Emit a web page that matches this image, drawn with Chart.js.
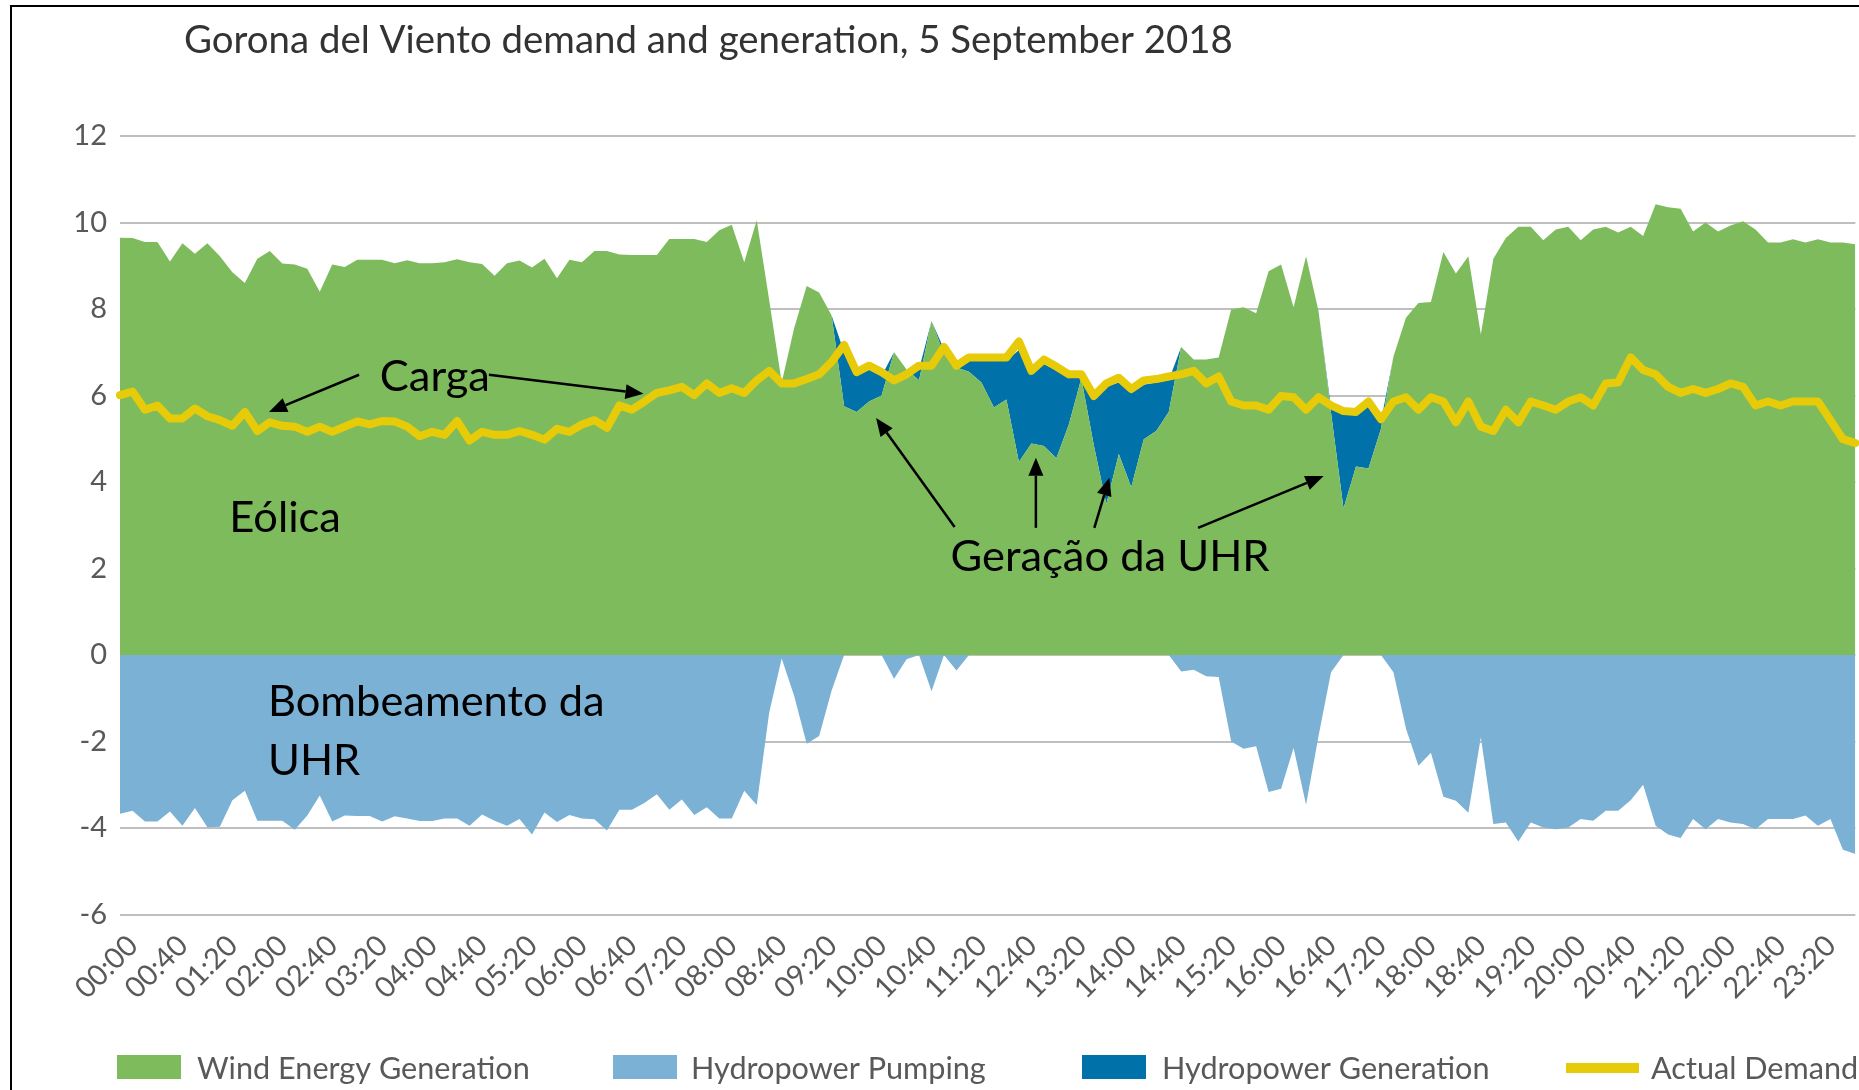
<!DOCTYPE html>
<html><head><meta charset="utf-8"><title>Gorona del Viento demand and generation</title>
<script src="https://cdn.jsdelivr.net/npm/chart.js@4.4.1/dist/chart.umd.min.js"></script>
<style>
html,body{margin:0;padding:0;background:#fff;overflow:hidden;width:1859px;height:1090px;}
#wrap{position:absolute;left:0;top:0;width:1886px;height:1090px;}
canvas{display:block;}
</style></head><body>
<div id="wrap"><canvas id="c" width="1886" height="1090"></canvas></div>
<script>
// ---------- data ----------
const times = ("00:00 00:10 00:20 00:30 00:40 00:50 01:00 01:10 01:20 01:30 01:40 01:50 " +
  "02:00 02:10 02:20 02:30 02:40 02:50 03:00 03:10 03:20 03:30 03:40 03:50 " +
  "04:00 04:10 04:20 04:30 04:40 04:50 05:00 05:10 05:20 05:30 05:40 05:50 " +
  "06:00 06:10 06:20 06:30 06:40 06:50 07:00 07:10 07:20 07:30 07:40 07:50 " +
  "08:00 08:10 08:20 08:30 08:40 08:50 09:00 09:10 09:20 09:30 09:40 09:50 " +
  "10:00 10:10 10:20 10:30 10:40 10:50 11:00 11:10 11:20 11:30 11:40 11:50 " +
  "12:40 12:50 13:00 13:10 13:20 13:30 13:40 13:50 14:00 14:10 14:20 14:30 14:40 14:50 " +
  "15:00 15:10 15:20 15:30 15:40 15:50 16:00 16:10 16:20 16:30 16:40 16:50 " +
  "17:00 17:10 17:20 17:30 17:40 17:50 18:00 18:10 18:20 18:30 18:40 18:50 " +
  "19:00 19:10 19:20 19:30 19:40 19:50 20:00 20:10 20:20 20:30 20:40 20:50 " +
  "21:00 21:10 21:20 21:30 21:40 21:50 22:00 22:10 22:20 22:30 22:40 22:50 " +
  "23:00 23:10 23:20 23:30 23:40 23:50").split(" ");

const tickLabels = ["00:00","00:40","01:20","02:00","02:40","03:20","04:00","04:40","05:20",
  "06:00","06:40","07:20","08:00","08:40","09:20","10:00","10:40","11:20","12:40","13:20",
  "14:00","14:40","15:20","16:00","16:40","17:20","18:00","18:40","19:20","20:00","20:40",
  "21:20","22:00","22:40","23:20"];

const windGen = [
  9.65,9.64,9.55,9.55,9.1,9.52,9.28,9.52,9.22,8.85,8.6,9.16,9.34,9.05,9.03,8.93,8.4,
  9.03,8.97,9.14,9.14,9.14,9.06,9.13,9.06,9.06,9.08,9.15,9.08,9.04,8.77,9.06,9.12,8.96,9.16,8.71,9.14,9.08,9.34,9.34,9.26,9.25,9.25,9.25,9.62,9.62,9.62,9.55,9.82,
  9.95,9.08,10.05,8.2,6.3,7.56,8.53,8.38,7.85,5.75,5.62,5.86,6.0,7.0,6.6,6.35,7.72,6.95,6.65,6.55,6.3,5.72,5.91,4.46,4.89,4.83,4.55,5.33,6.4,
  4.85,3.49,4.65,3.88,4.99,5.18,5.62,7.12,6.83,6.83,6.88,7.99,8.04,7.9,8.87,9.03,8.04,9.22,7.95,5.6,3.39,4.36,4.31,5.23,6.9,7.8,8.14,8.16,9.32,8.82,9.22,7.41,9.16,
  9.64,9.9,9.9,9.59,9.84,9.9,9.59,9.84,9.9,9.77,9.9,9.69,10.42,10.35,10.32,9.79,10.0,9.79,9.93,10.03,9.84,9.54,9.54,9.61,9.54,9.61,9.54,9.54,9.5
];

const hydroPumping = [
  -3.67,-3.6,-3.85,-3.85,-3.62,-3.95,-3.54,-3.98,-3.97,-3.36,-3.14,-3.83,-3.83,-3.83,-4.04,-3.71,-3.25,
  -3.85,-3.71,-3.72,-3.72,-3.85,-3.73,-3.78,-3.84,-3.84,-3.78,-3.78,-3.95,-3.69,-3.83,-3.95,-3.79,-4.15,-3.64,-3.86,-3.7,-3.78,-3.8,-4.06,-3.58,-3.58,-3.42,-3.22,-3.58,-3.34,-3.7,-3.52,-3.78,
  -3.78,-3.14,-3.47,-1.33,-0.08,-0.95,-2.05,-1.87,-0.82,0,0,0,0,-0.55,-0.1,0,-0.84,0,-0.36,0,0,0,0,0,0,0,0,0,0,
  0,0,0,0,0,0,0,-0.38,-0.34,-0.49,-0.51,-2.0,-2.17,-2.11,-3.17,-3.09,-2.15,-3.46,-1.87,-0.4,0,0,0,0,-0.4,-1.7,-2.56,-2.26,-3.28,-3.37,-3.65,-1.9,-3.91,
  -3.87,-4.31,-3.87,-3.99,-4.03,-3.99,-3.79,-3.83,-3.6,-3.6,-3.36,-3.0,-3.95,-4.15,-4.23,-3.79,-4.03,-3.79,-3.87,-3.91,-4.03,-3.79,-3.79,-3.79,-3.71,-3.95,-3.79,-4.5,-4.6
];

const hydroGen = [
  0,0,0,0,0,0,0,0,0,0,
  0,0,0,0,0,0,0,0,0,0,
  0,0,0,0,0,0,0,0,0,0,
  0,0,0,0,0,0,0,0,0,0,
  0,0,0,0,0,0,0,0,0,0,
  0,0,0,0,0,0,0,0,1.25,0.83,
  0.74,0.45,0,0,0.25,0,0.12,0,0.25,0.5,
  1.08,0.89,2.59,1.61,1.9,2.03,1.07,0.05,1.05,2.71,
  1.65,2.17,1.26,1.12,0.73,0,0,0,0,0,
  0,0,0,0,0,0,0,0.1,2.16,1.19,
  1.44,0.17,0,0,0,0,0,0,0,0,
  0,0,0,0,0,0,0,0,0,0,
  0,0,0,0,0,0,0,0,0,0,
  0,0,0,0,0,0,0,0,0,0
];

const actualDemand = [
  6.01,6.09,5.67,5.77,5.47,5.47,5.7,5.52,5.43,5.3,5.62,5.18,5.38,5.3,5.28,5.16,5.28,
  5.16,5.28,5.4,5.33,5.41,5.4,5.28,5.06,5.16,5.09,5.41,4.96,5.16,5.09,5.09,5.18,5.09,4.98,5.23,5.16,5.33,5.43,5.25,5.77,5.67,5.86,6.06,6.12,6.2,6.01,6.28,6.06,
  6.17,6.06,6.35,6.57,6.28,6.28,6.38,6.49,6.78,7.17,6.54,6.69,6.54,6.35,6.49,6.69,6.69,7.12,6.69,6.88,6.88,6.88,6.88,7.25,6.57,6.83,6.67,6.49,6.49,
  5.99,6.28,6.41,6.15,6.35,6.38,6.44,6.49,6.57,6.28,6.44,5.86,5.77,5.77,5.67,5.99,5.96,5.67,5.96,5.77,5.64,5.62,5.86,5.45,5.86,5.96,5.67,5.96,5.86,5.38,5.86,5.28,5.18,
  5.67,5.38,5.86,5.77,5.67,5.86,5.96,5.77,6.28,6.3,6.88,6.59,6.49,6.2,6.06,6.15,6.06,6.15,6.28,6.2,5.77,5.86,5.77,5.86,5.86,5.86,5.43,4.99,4.9
];

const seriesNames = ["Wind Energy Generation","Hydropower Pumping","Hydropower Generation","Actual Demand"];
const yMin = -6, yMax = 12, yStep = 2;
const chartTitle = "Gorona del Viento demand and generation, 5 September 2018";

// annotations in data units (category index, MW)
const notes = [
  {text:"Carga", x:20.81, y:6.11},
  {text:"Eólica", x:8.75, y:2.84},
  {text:"Bombeamento da", x:11.85, y:-1.41},
  {text:"UHR", x:11.85, y:-2.78},
  {text:"Geração da UHR", x:66.53, y:1.94}
];
const arrows = [
  [19.15,6.48, 11.93,5.62],
  [29.55,6.48, 41.93,6.04],
  [66.85,2.96, 60.56,5.48],
  [73.36,2.94, 73.36,4.56],
  [78.04,2.94, 79.25,4.10],
  [86.35,2.94, 96.4,4.14]
];

// ---------- styling ----------
const COLORS = {wind:'#7dbb5d', pump:'#7ab1d5', hydro:'#0071a9', demand:'#e7cb08'};
const FONT = 'Lato, "Open Sans", "DejaVu Sans", sans-serif';
const TXT = '#595959';

function fitSize(ctx, text, width){
  ctx.font = '100px ' + FONT;
  return 100 * width / ctx.measureText(text).width;
}
function drawArrow(ctx, x1, y1, x2, y2){
  const ang = Math.atan2(y2 - y1, x2 - x1), hl = 18, hw = 7.5;
  const bx = x2 - hl * Math.cos(ang), by = y2 - hl * Math.sin(ang);
  ctx.strokeStyle = '#000'; ctx.fillStyle = '#000'; ctx.lineWidth = 2.5;
  ctx.beginPath(); ctx.moveTo(x1, y1); ctx.lineTo(bx, by); ctx.stroke();
  ctx.beginPath(); ctx.moveTo(x2, y2);
  ctx.lineTo(bx + hw * Math.sin(ang), by - hw * Math.cos(ang));
  ctx.lineTo(bx - hw * Math.sin(ang), by + hw * Math.cos(ang));
  ctx.closePath(); ctx.fill();
}

const legendItems = [
  {ds:1, kind:'box',  x:117,  tx:197},
  {ds:3, kind:'box',  x:613,  tx:691},
  {ds:2, kind:'box',  x:1082, tx:1162},
  {ds:0, kind:'line', x:1566, tx:1651}
];

const decor = {
  id:'decor',
  afterDraw(ch){
    const ctx = ch.ctx, xs = ch.scales.x, ys = ch.scales.y;
    ctx.save();
    // outer frame (left & top edges visible)
    ctx.fillStyle = '#000';
    ctx.fillRect(10, 5, 2, ch.height);
    ctx.fillRect(10, 5, ch.width, 2);
    // title
    ctx.textAlign = 'left'; ctx.textBaseline = 'alphabetic';
    const ts = fitSize(ctx, chartTitle, 1049);
    ctx.font = ts + 'px ' + FONT; ctx.fillStyle = '#333';
    ctx.fillText(chartTitle, 184, 53);
    // annotations
    const as = fitSize(ctx, 'Geração da UHR', 319);
    ctx.font = as + 'px ' + FONT; ctx.fillStyle = '#000';
    notes.forEach(n => ctx.fillText(n.text, xs.getPixelForValue(n.x), ys.getPixelForValue(n.y)));
    arrows.forEach(a => drawArrow(ctx, xs.getPixelForValue(a[0]), ys.getPixelForValue(a[1]),
                                       xs.getPixelForValue(a[2]), ys.getPixelForValue(a[3])));
    // legend
    const ls = fitSize(ctx, seriesNames[0], 333);
    ctx.font = ls + 'px ' + FONT;
    legendItems.forEach(it => {
      const ds = ch.data.datasets[it.ds];
      if (it.kind === 'box') { ctx.fillStyle = ds.backgroundColor; ctx.fillRect(it.x, 1055, 64, 24); }
      else { ctx.fillStyle = ds.borderColor; ctx.fillRect(it.x, 1063, 73, 10); }
      ctx.fillStyle = TXT;
      ctx.fillText(ds.label, it.tx, 1079);
    });
    ctx.restore();
  }
};

const chart = new Chart(document.getElementById('c'), {
  type: 'line',
  data: {
    labels: times,
    datasets: [
      {label: seriesNames[3], data: actualDemand, stack:'demand', borderColor: COLORS.demand, backgroundColor: COLORS.demand,
       borderWidth: 8, fill:false, pointRadius:0, tension:0, borderJoinStyle:'round', borderCapStyle:'round'},
      {label: seriesNames[0], data: windGen, stack:'gen', backgroundColor: COLORS.wind, borderColor:'rgba(0,0,0,0)',
       borderWidth:0, fill:'origin', pointRadius:0, tension:0},
      {label: seriesNames[2], data: hydroGen, stack:'gen', backgroundColor: COLORS.hydro, borderColor:'rgba(0,0,0,0)',
       borderWidth:0, fill:'-1', pointRadius:0, tension:0},
      {label: seriesNames[1], data: hydroPumping, stack:'pump', backgroundColor: COLORS.pump, borderColor:'rgba(0,0,0,0)',
       borderWidth:0, fill:'origin', pointRadius:0, tension:0}
    ]
  },
  options: {
    responsive:false, animation:false, devicePixelRatio:1,
    layout:{padding:{left:0, top:136, right:14.5, bottom:0}},
    plugins:{legend:{display:false}, title:{display:false}, tooltip:{enabled:false}},
    scales:{
      x:{
        grid:{display:false}, border:{display:false},
        ticks:{autoSkip:false, maxRotation:45, minRotation:45, labelOffset:13, padding:6,
               color:TXT, font:{family:FONT, size:29},
               callback(v){ const l = this.getLabelForValue(v); return tickLabels.includes(l) ? l : ''; }},
        afterFit(s){ s.height = 175.5; }
      },
      y:{
        stacked:true, min:yMin, max:yMax,
        ticks:{stepSize:yStep, padding:13, color:TXT, font:{family:FONT, size:29}},
        grid:{color:'#bfbfbf', lineWidth:2, drawTicks:false}, border:{display:false},
        afterFit(s){ s.width = 120; }
      }
    }
  },
  plugins:[decor]
});
</script>
</body></html>
